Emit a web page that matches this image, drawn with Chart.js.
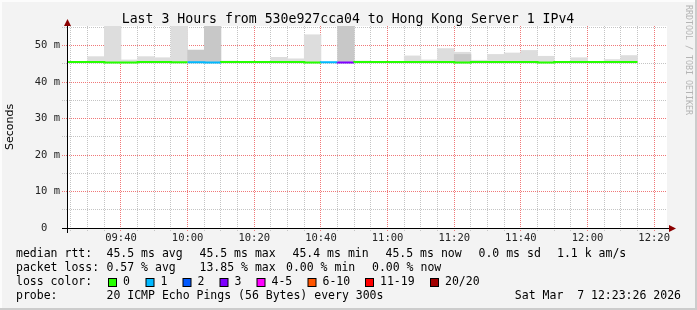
<!DOCTYPE html>
<html>
<head>
<meta charset="utf-8">
<script src="https://cdn.jsdelivr.net/npm/chart.js@4/dist/chart.umd.min.js"></script>
<style>
  html, body { margin: 0; padding: 0; background: #f3f3f3; }
  #wrap { width: 697px; height: 310px; }
</style>
</head>
<body>
<div id="wrap"><canvas id="chart" width="697" height="310"></canvas></div>
<script>
// 5 minute bins (start time of each bin)
const binTimes = ['09:20', '09:25', '09:30', '09:35', '09:40', '09:45', '09:50', '09:55',
  '10:00', '10:05', '10:10', '10:15', '10:20', '10:25', '10:30', '10:35', '10:40', '10:45',
  '10:50', '10:55', '11:00', '11:05', '11:10', '11:15', '11:20', '11:25', '11:30', '11:35',
  '11:40', '11:45', '11:50', '11:55', '12:00', '12:05', '12:10'];
// median rtt in ms
const medianRtt = [45.5, 45.5, 45.5, 45.5, 45.4, 45.4, 45.5, 45.5,
  45.45, 45.45, 45.4, 45.5, 45.5, 45.5, 45.5, 45.5, 45.4, 45.45,
  45.4, 45.5, 45.5, 45.5, 45.5, 45.5, 45.5, 45.4, 45.5, 45.5,
  45.5, 45.5, 45.4, 45.5, 45.5, 45.5, 45.5];
// lost pings out of 20
const lostPings = [0, 0, 0, 0, 0, 0, 0, 0,
  1, 1, 0, 0, 0, 0, 0, 0, 1, 3,
  0, 0, 0, 0, 0, 0, 0, 0, 0, 0,
  0, 0, 0, 0, 0, 0, 0];
// smoke: lowest ping and highest ping per bin (null = no smoke visible)
const smokeLow = 45.3;
const smokeHigh = [null, null, 47.0, 55.6, 46.1, 47.0, 46.7, 55.6,
  null, null, 45.8, null, null, 46.8, 46.4, 53.0, null, null,
  45.8, null, null, 47.2, 46.1, 49.2, 48.2, 46.0, 47.6, 48.0,
  48.7, 47.1, null, 46.7, null, 46.2, 47.3];
const smokeHighDark = [null, null, null, null, null, null, null, null,
  48.8, 55.6, null, null, null, null, null, null, null, 55.6,
  null, null, null, null, null, null, 47.6, null, null, null,
  null, null, null, null, null, null, null];

const yTickLabels = ['0  ', '10 m', '20 m', '30 m', '40 m', '50 m'];
const xTickLabels = ['09:40', '10:00', '10:20', '10:40', '11:00', '11:20', '11:40', '12:00', '12:20'];

const lossColors = ['#26ff00', '#00b8ff', '#0059ff', '#7e00ff', '#ff00ff', '#ff5500', '#ff0000', '#a10000'];
const lossLabels = ['0', '1', '2', '3', '4-5', '6-10', '11-19', '20/20'];

const statsRtt = ['45.5 ms avg', '45.5 ms max', '45.4 ms min', '45.5 ms now', '0.0 ms sd', '1.1 k am/s'];
const statsLoss = ['0.57 % avg', '13.85 % max', '0.00 % min', '0.00 % now'];

const toMin = s => { const p = s.split(':'); return +p[0] * 60 + +p[1]; };
const lossIndex = n => n <= 3 ? n : n <= 5 ? 4 : n <= 10 ? 5 : n <= 19 ? 6 : 7;

const medianPts = binTimes.map((t, i) => ({ x: toMin(t), y: medianRtt[i] }));
medianPts.push({ x: toMin(binTimes[binTimes.length - 1]) + 5, y: medianRtt[medianRtt.length - 1] });
const lightPts = [], darkPts = [];
binTimes.forEach((t, i) => {
  if (smokeHigh[i] !== null) lightPts.push({ x: toMin(t) + 2.5, y: [smokeLow, smokeHigh[i]] });
  if (smokeHighDark[i] !== null) darkPts.push({ x: toMin(t) + 2.5, y: [smokeLow, smokeHighDark[i]] });
});

const MONO = '"DejaVu Sans Mono", monospace';
const gridMinor = '#c4c4c4';
const gridMajor = '#f07878';

const rrdFrame = {
  id: 'rrdFrame',
  beforeDraw(chart) {
    const { ctx, chartArea: a } = chart;
    ctx.save();
    ctx.fillStyle = '#f3f3f3';
    ctx.fillRect(0, 0, 697, 310);
    ctx.fillStyle = '#fcfcfc';
    ctx.fillRect(0, 0, 697, 2);
    ctx.fillRect(0, 0, 2, 310);
    ctx.fillStyle = '#cccccc';
    ctx.fillRect(0, 308, 697, 2);
    ctx.fillRect(695, 0, 2, 310);
    ctx.fillStyle = '#ffffff';
    ctx.fillRect(a.left, a.top, a.right - a.left, a.bottom - a.top);
    ctx.restore();
  },
  afterDatasetsDraw(chart) {
    const { ctx, chartArea: a } = chart;
    ctx.save();
    // axes with arrows
    ctx.strokeStyle = '#000';
    ctx.lineWidth = 1;
    ctx.beginPath();
    ctx.moveTo(62, a.bottom + 0.5);
    ctx.lineTo(670, a.bottom + 0.5);
    ctx.moveTo(a.left + 0.5, a.bottom + 5);
    ctx.lineTo(a.left + 0.5, 26);
    ctx.stroke();
    ctx.fillStyle = '#8b0000';
    ctx.beginPath();
    ctx.moveTo(676, a.bottom + 0.5);
    ctx.lineTo(669, a.bottom - 3);
    ctx.lineTo(669, a.bottom + 4);
    ctx.closePath();
    ctx.fill();
    ctx.beginPath();
    ctx.moveTo(a.left + 0.5, 19);
    ctx.lineTo(a.left - 3, 26);
    ctx.lineTo(a.left + 4, 26);
    ctx.closePath();
    ctx.fill();
    ctx.restore();
  },
  afterDraw(chart) {
    const { ctx } = chart;
    ctx.save();
    ctx.fillStyle = '#000';
    ctx.textBaseline = 'middle';
    ctx.textAlign = 'center';
    ctx.font = '13.2px ' + MONO;
    ctx.fillText('Last 3 Hours from 530e927cca04 to Hong Kong Server 1 IPv4', 348, 20);

    ctx.textAlign = 'left';
    ctx.font = '11.5px ' + MONO;
    ctx.fillText('median rtt:', 16, 254.5);
    [106.5, 199.5, 292.5, 385.5, 478.5, 557].forEach((x, i) => ctx.fillText(statsRtt[i], x, 254.5));
    ctx.fillText('packet loss:', 16, 268.5);
    [106.5, 199.5, 286, 372].forEach((x, i) => ctx.fillText(statsLoss[i], x, 268.5));
    ctx.fillText('loss color:', 16, 282.5);
    const boxX = [108, 145.5, 182.5, 219.5, 256.5, 307.5, 365, 430];
    lossLabels.forEach((l, i) => {
      ctx.fillStyle = lossColors[i];
      ctx.fillRect(boxX[i] + 0.5, 278.5, 8, 8);
      ctx.strokeStyle = '#000';
      ctx.lineWidth = 1;
      ctx.strokeRect(boxX[i] + 0.5, 278.5, 8, 8);
      ctx.fillStyle = '#000';
      ctx.fillText(l, boxX[i] + 15, 282.5);
    });
    ctx.fillText('probe:', 16, 296.5);
    ctx.fillText('20 ICMP Echo Pings (56 Bytes) every 300s', 106.5, 296.5);
    ctx.textAlign = 'right';
    ctx.fillText('Sat Mar  7 12:23:26 2026', 681, 296.5);

    // watermark
    ctx.translate(688, 5);
    ctx.rotate(Math.PI / 2);
    ctx.textAlign = 'left';
    ctx.fillStyle = '#b4b4b4';
    ctx.font = '8.3px ' + MONO;
    ctx.fillText('RRDTOOL / TOBI OETIKER', 0, 0);
    ctx.restore();
  }
};

const ctx = document.getElementById('chart').getContext('2d');
new Chart(ctx, {
  data: {
    datasets: [
      {
        type: 'line',
        label: 'median rtt',
        data: medianPts,
        stepped: 'after',
        borderWidth: 2,
        borderColor: lossColors[0],
        pointRadius: 0,
        fill: false,
        order: 0,
        segment: {
          borderColor: c => lossColors[lossIndex(lostPings[c.p0DataIndex] || 0)]
        }
      },
      {
        type: 'bar',
        label: 'smoke dark',
        data: darkPts,
        backgroundColor: '#c8c8c8',
        grouped: false,
        barPercentage: 1,
        categoryPercentage: 1,
        order: 1
      },
      {
        type: 'bar',
        label: 'smoke',
        data: lightPts,
        backgroundColor: '#dddddd',
        grouped: false,
        barPercentage: 1,
        categoryPercentage: 1,
        order: 2
      }
    ]
  },
  options: {
    responsive: false,
    animation: false,
    layout: { padding: { top: 26, right: 30, left: 0, bottom: 0 } },
    plugins: {
      legend: { display: false },
      tooltip: { enabled: false },
      title: { display: false }
    },
    scales: {
      x: {
        type: 'linear',
        offset: false,
        min: toMin('09:23') + 0.8,
        max: toMin('12:23') + 0.85,
        afterFit: s => { s.height = 82; },
        border: { display: false, dash: [1, 1] },
        grid: {
          offset: false,
          color: c => (c.tick && c.tick.value % 20 === 0) ? gridMajor : gridMinor,
          tickColor: c => (c.tick && c.tick.value % 20 === 0) ? gridMajor : gridMinor,
          tickLength: 4,
          tickBorderDash: [1, 1]
        },
        ticks: {
          stepSize: 5,
          includeBounds: false,
          autoSkip: false,
          maxRotation: 0,
          padding: 0,
          color: '#222',
          font: { family: MONO, size: 10.5 },
          callback: v => v % 20 === 0 ? (xTickLabels[(v - toMin('09:40')) / 20] || '') : ''
        }
      },
      y: {
        type: 'linear',
        min: 0,
        max: 55.4,
        afterFit: s => { s.width = 67; },
        border: { display: false, dash: [1, 1] },
        grid: {
          color: c => (c.tick && c.tick.value % 10 === 0) ? gridMajor : gridMinor,
          tickColor: c => (c.tick && c.tick.value % 10 === 0) ? gridMajor : gridMinor,
          tickLength: 5,
          tickBorderDash: [1, 1]
        },
        ticks: {
          stepSize: 5,
          includeBounds: false,
          padding: 2,
          color: '#222',
          font: { family: MONO, size: 10.5 },
          callback: v => v % 10 === 0 ? yTickLabels[v / 10] : ''
        },
        title: {
          display: true,
          text: 'Seconds',
          color: '#000',
          font: { family: '"DejaVu Sans", sans-serif', size: 11 },
          padding: { top: 4, bottom: 0 }
        }
      }
    }
  },
  plugins: [rrdFrame]
});
</script>
</body>
</html>
